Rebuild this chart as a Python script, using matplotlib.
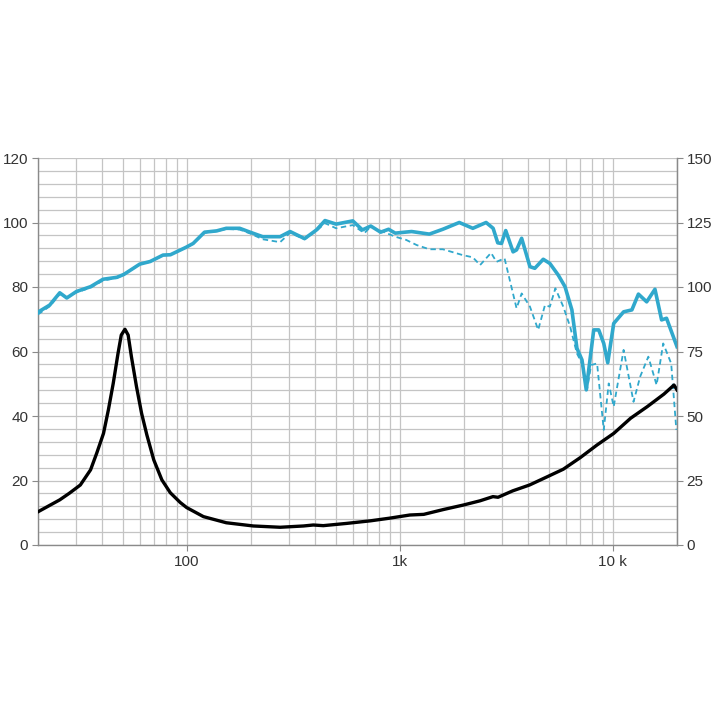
import numpy as np
import matplotlib
matplotlib.use("Agg")
import matplotlib.pyplot as plt
from matplotlib.ticker import FixedLocator, NullFormatter, LogLocator

plt.rcParams['font.family'] = ['Liberation Sans', 'DejaVu Sans']

# On-axis SPL (solid)
spl_f = [20, 22.7, 25.3, 27.3, 30.3, 35.3, 40.4, 46.9, 50.6, 60.1, 67.2, 77.3, 83.7, 99, 107, 121, 138, 153, 177,
         198, 227, 274, 305, 357, 406, 445, 502, 601, 667, 730, 812, 885, 951, 1135, 1375, 1590, 1900, 2200,
         2540, 2740, 2880, 3000, 3140, 3400, 3530, 3730, 4080, 4300, 4710, 5060, 5540, 5960, 6420, 6780,
         7160, 7500, 7840, 8130, 8580, 9060, 9460, 10090, 11230, 12280, 13180, 14410, 15760, 16930, 17860, 20000]
spl_v = [72.2, 74.4, 78.2, 76.6, 78.6, 80.1, 82.4, 83.0, 83.9, 87.1, 87.9, 89.9, 90.0, 92.3, 93.5, 97.0, 97.4, 98.2, 98.2,
         97.0, 95.6, 95.6, 97.2, 95.0, 97.7, 100.6, 99.5, 100.5, 97.7, 98.9, 97.0, 97.9, 96.7, 97.2, 96.4, 97.9, 100.0, 98.2,
         100.0, 98.2, 93.7, 93.5, 97.5, 90.9, 91.5, 95.1, 86.3, 85.8, 88.6, 87.3, 83.7, 80.1, 72.9, 61.0,
         57.4, 48.1, 58.4, 66.7, 66.7, 62.5, 56.5, 68.7, 72.3, 72.9, 77.8, 75.4, 79.3, 69.8, 70.3, 61.5]

# Off-axis SPL (dashed)
off_f = [20, 22.7, 25.3, 27.3, 30.3, 35.3, 40.4, 46.9, 50.6, 60.1, 67.2, 77.3, 83.7, 99, 107, 121, 138, 153, 177,
         198, 227, 274, 305, 357, 406, 445, 502, 601, 681, 730, 951, 1070, 1200, 1375, 1590, 1970, 2200,
         2380, 2680, 2840, 3100, 3530, 3730, 4080, 4460, 4800, 5060, 5370, 5850, 6300, 6780, 7160, 7560,
         7900, 8430, 9060, 9560, 10090, 11230, 12500, 13430, 14670, 16040, 17230, 18780, 19860]
off_v = [71.5, 74.0, 77.8, 76.8, 78.3, 79.8, 82.0, 82.8, 83.8, 87.0, 87.8, 89.8, 90.0, 92.2, 93.4, 96.8, 97.3, 98.0, 97.8,
         96.6, 94.8, 93.9, 96.8, 94.8, 97.4, 99.8, 98.2, 99.2, 96.7, 98.7, 95.6, 94.6, 93.0, 91.7, 91.7, 89.9, 89.2,
         86.8, 90.6, 87.8, 88.9, 73.4, 78.0, 73.9, 66.7, 74.4, 73.9, 79.6, 73.9, 67.7, 59.4, 56.3, 48.1,
         55.8, 56.3, 35.7, 50.1, 42.9, 60.5, 44.4, 52.2, 58.4, 49.6, 62.5, 56.3, 35.7]

# Impedance (black)
imp_f = [20, 22, 25.3, 28, 31.6, 35.3, 37.7, 40.6, 42.8, 45.1, 47.5, 49.2, 51.2, 53.0, 54.9, 58.0, 61.3, 64.9,
         69.9, 76.3, 83.6, 93.0, 99.8, 119.6, 153, 205, 274, 353, 392, 437, 563, 728, 891, 1114, 1294, 1601,
         1988, 2378, 2735, 2890, 3390, 4060, 4860, 5850, 7030, 8420, 10090, 12110, 14500, 17370, 19360, 20000]
imp_v = [10.3, 11.8, 14.0, 16.0, 18.6, 23.3, 28.4, 34.6, 41.9, 50.1, 59.4, 65.1, 66.9, 65.1, 58.4, 49.1, 40.8, 34.1,
         26.4, 20.2, 16.2, 13.2, 11.6, 8.8, 6.9, 5.9, 5.5, 5.9, 6.2, 6.0, 6.7, 7.5, 8.3, 9.3, 9.5, 11.0,
         12.4, 13.7, 15.0, 14.8, 16.8, 18.6, 21.0, 23.5, 27.1, 31.0, 34.6, 39.3, 42.9, 46.8, 49.6, 48.1]

x_ticks = [100, 1000, 10000]
x_labels = ['100', '1k', '10 k']
left_ticks = [0, 20, 40, 60, 80, 100, 120]
right_ticks = [0, 25, 50, 75, 100, 125, 150]

cyan = '#30a8cc'
fig = plt.figure(figsize=(7.2, 7.2), dpi=100)
ax = fig.add_axes([38/720, 1-545/720, (677-38)/720, (545-158)/720])
ax.set_xscale('log')
ax.set_xlim(20, 20000)
ax.set_ylim(0, 120)

ax.plot(off_f, off_v, color=cyan, lw=1.3, ls=(0, (3, 2)), zorder=3)
ax.plot(spl_f, spl_v, color=cyan, lw=2.6, zorder=4, solid_joinstyle='round')
ax.plot(imp_f, imp_v, color='black', lw=2.4, zorder=5, solid_joinstyle='round')

ax.xaxis.set_major_locator(FixedLocator(x_ticks))
ax.set_xticklabels(x_labels)
ax.xaxis.set_minor_locator(LogLocator(base=10, subs=np.arange(2, 10)))
ax.xaxis.set_minor_formatter(NullFormatter())
ax.set_yticks(left_ticks)
ax.set_yticks(np.arange(0, 121, 4), minor=True)
ax.grid(True, which='both', color='#c4c4c4', lw=0.9)
ax.set_axisbelow(True)

ax.spines['top'].set_visible(False)
for s in ['left', 'bottom', 'right']:
    ax.spines[s].set_color('#8a8a8a')
    ax.spines[s].set_linewidth(1.0)
ax.tick_params(axis='both', which='major', length=4, color='#8a8a8a', labelsize=11, labelcolor='#333333', pad=3)
ax.tick_params(axis='both', which='minor', length=0)

ax2 = ax.twinx()
ax2.set_ylim(0, 150)
ax2.set_yticks(right_ticks)
for s in ['top', 'left', 'bottom']:
    ax2.spines[s].set_visible(False)
ax2.spines['right'].set_color('#8a8a8a')
ax2.tick_params(axis='y', length=4, color='#8a8a8a', labelsize=11, labelcolor='#333333', pad=3)

fig.savefig('out.png', dpi=100)
